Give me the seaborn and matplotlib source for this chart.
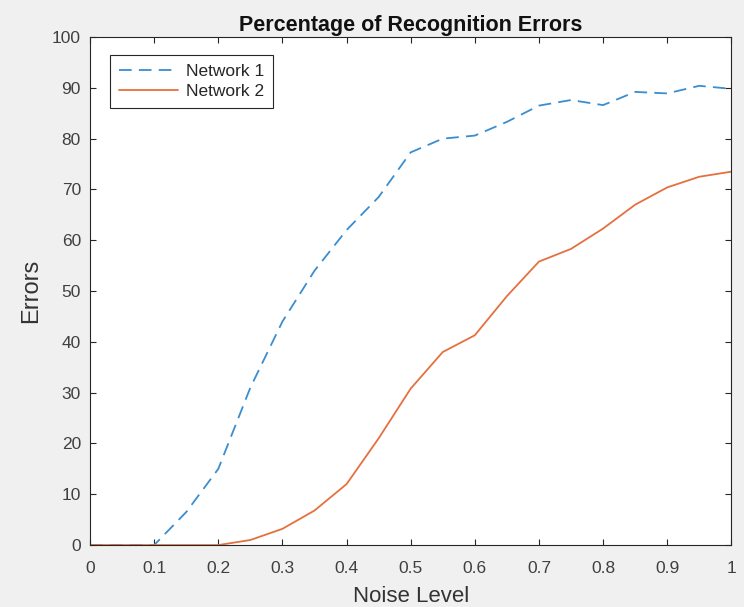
import numpy as np
import pandas as pd
import seaborn as sns
import matplotlib
matplotlib.use("Agg")
import matplotlib.pyplot as plt

noise_level = [0.0, 0.05, 0.1, 0.15, 0.2, 0.25, 0.3, 0.35, 0.4, 0.45, 0.5,
               0.55, 0.6, 0.65, 0.7, 0.75, 0.8, 0.85, 0.9, 0.95, 1.0]
network1 = [0, 0, 0, 6.5, 15, 31, 44, 54, 62, 68.5, 77.3,
            80.0, 80.6, 83.3, 86.5, 87.6, 86.6, 89.2, 88.9, 90.4, 89.8]
network2 = [0, 0, 0, 0, 0, 1, 3.2, 6.8, 12, 21, 30.8,
            38, 41.3, 49, 55.8, 58.3, 62.3, 67, 70.4, 72.5, 73.5]

df = pd.DataFrame({
    "noise": noise_level * 2,
    "errors": network1 + network2,
    "net": ["Network 1"] * len(noise_level) + ["Network 2"] * len(noise_level),
})

sns.set_style("white")
plt.rcParams["font.family"] = ["Liberation Sans", "DejaVu Sans"]

fig = plt.figure(figsize=(7.44, 6.07), dpi=100, facecolor="#f0f0f0")
ax = fig.add_axes([0.121, 0.102, 0.862, 0.837])
ax.set_facecolor("white")

colors = {"Network 1": "#3a8dcf", "Network 2": "#e5703f"}
sns.lineplot(data=df[df.net == "Network 1"], x="noise", y="errors", ax=ax,
             color=colors["Network 1"], linestyle=(0, (7, 4)), linewidth=1.3,
             label="Network 1")
sns.lineplot(data=df[df.net == "Network 2"], x="noise", y="errors", ax=ax,
             color=colors["Network 2"], linewidth=1.3, label="Network 2")

ax.set_xlim(0, 1)
ax.set_ylim(0, 100)
ax.set_xticks(np.arange(0, 1.01, 0.1))
ax.set_xticklabels(["0", "0.1", "0.2", "0.3", "0.4", "0.5", "0.6", "0.7", "0.8", "0.9", "1"])
ax.set_yticks(np.arange(0, 101, 10))

for s in ax.spines.values():
    s.set_visible(True)
    s.set_color("#262626")
    s.set_linewidth(0.8)
ax.tick_params(direction="in", length=4, width=0.8, top=True, right=True,
               bottom=True, left=True, labelsize=12.5, labelcolor="#404040",
               color="#262626")
ax.tick_params(axis="x", pad=11.5)
ax.tick_params(axis="y", pad=6.5)

ax.set_title("Percentage of Recognition Errors", fontsize=15.5, fontweight="bold",
             color="#111111", pad=4)
ax.set_xlabel("Noise Level", fontsize=16, color="#333333", labelpad=7)
ax.set_ylabel("Errors", fontsize=17, color="#333333", labelpad=7)

leg = ax.legend(loc="upper left", bbox_to_anchor=(0.031, 0.965), fontsize=12.5,
                frameon=True, fancybox=False, framealpha=1, edgecolor="#262626",
                handlelength=3.4, borderpad=0.5, labelspacing=0.3, handletextpad=0.5,
                borderaxespad=0)
leg.get_frame().set_linewidth(0.8)

fig.savefig("out.png", dpi=100, facecolor=fig.get_facecolor())
